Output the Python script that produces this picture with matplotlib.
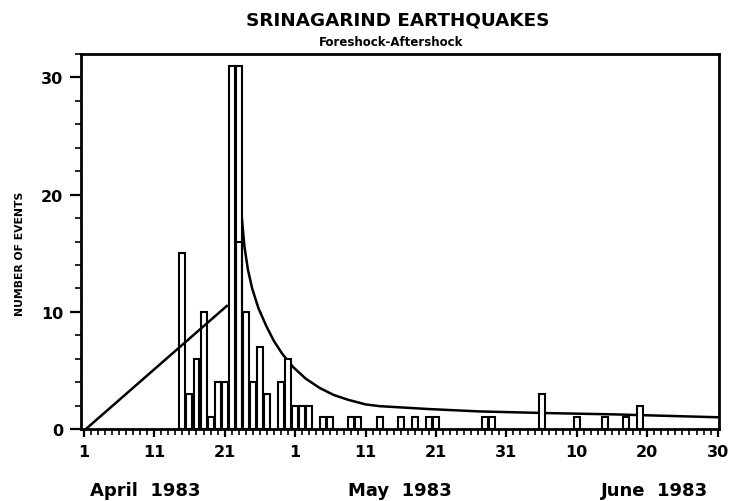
import matplotlib
matplotlib.use("Agg")
import matplotlib.pyplot as plt
import matplotlib.transforms as mtransforms
from matplotlib.ticker import MultipleLocator, FixedLocator

# Day index: 0 = April 1, 1983
bar_days = [14, 15, 16, 17, 18, 19, 20, 21, 22, 23, 24, 25, 26, 28, 29,
            30, 31, 32, 34, 35, 38, 39, 42, 45, 47, 49, 50, 57, 58,
            65, 70, 74, 77, 79]
bar_counts = [15, 3, 6, 10, 1, 4, 4, 31, 31, 10, 4, 7, 3, 4, 6,
              2, 2, 2, 1, 1, 1, 1, 1, 1, 1, 1, 1, 1, 1,
              3, 1, 1, 1, 2]
overlay_days = [22]
overlay_counts = [16]

# Fitted curve
rise_days = [0.3, 20.3]
rise_vals = [0.0, 10.5]
decay_days = [21.9, 22.4, 22.8, 23.3, 23.9, 24.8, 25.9, 27.0, 28.2, 29.7, 31.5, 33.5,
              35.5, 37.5, 40.0, 42.0, 49.1, 56.2, 65.7, 75.2, 90.2]
decay_vals = [24.0, 18.3, 15.6, 13.6, 12.0, 10.3, 8.8, 7.5, 6.4, 5.3, 4.3, 3.5,
              2.9, 2.5, 2.1, 1.95, 1.7, 1.5, 1.36, 1.25, 1.0]

major_ticks = [0, 10, 20, 30, 40, 50, 60, 70, 80, 90]
major_labels = ["1", "11", "21", "1", "11", "21", "31", "10", "20", "30"]
months = ["April  1983", "May  1983", "June  1983"]
month_pos = [8.7, 44.9, 81.0]

fig = plt.figure(figsize=(7.33, 5.02), dpi=100)
ax = fig.add_axes([0.1105, 0.1434, 0.8705, 0.747])

ax.plot(decay_days, decay_vals, color="black", lw=1.8, zorder=1)
ax.bar(bar_days, bar_counts, width=0.85, color="white", edgecolor="black",
       linewidth=1.5, zorder=2)
ax.bar(overlay_days, overlay_counts, width=0.85, color="none", edgecolor="black",
       linewidth=1.5, zorder=3)
ax.plot(rise_days, rise_vals, color="black", lw=1.8, zorder=4)

ax.set_xlim(-0.4, 90.2)
ax.set_ylim(0, 32)

for s in ax.spines.values():
    s.set_linewidth(2)
    s.set_color("black")

ax.xaxis.set_major_locator(FixedLocator(major_ticks))
ax.set_xticklabels(major_labels)
ax.xaxis.set_minor_locator(MultipleLocator(1))
ax.yaxis.set_major_locator(MultipleLocator(10))
ax.yaxis.set_minor_locator(MultipleLocator(2))
ax.tick_params(axis="both", which="major", direction="out", length=8, width=1.6,
               labelsize=11.5, pad=5)
ax.tick_params(axis="both", which="minor", direction="out", length=4, width=1.2)
ax.tick_params(axis="x", which="major", length=6, pad=5)
for lab in ax.get_xticklabels() + ax.get_yticklabels():
    lab.set_fontweight("bold")

ax.set_ylabel("NUMBER OF EVENTS", fontsize=7.8, fontweight="bold")
ax.yaxis.set_label_coords(-0.088, 0.47)

trans = mtransforms.blended_transform_factory(ax.transData, fig.transFigure)
for m, p in zip(months, month_pos):
    ax.text(p, 0.022, m, transform=trans, fontsize=13,
            fontweight="bold", ha="center", va="center")

fig.text(0.542, 0.96, "SRINAGARIND EARTHQUAKES", fontsize=13.2, fontweight="bold",
         ha="center", va="center")
fig.text(0.534, 0.916, "Foreshock-Aftershock", fontsize=8.5, fontweight="bold",
         ha="center", va="center")

fig.savefig("out.png", dpi=100)
